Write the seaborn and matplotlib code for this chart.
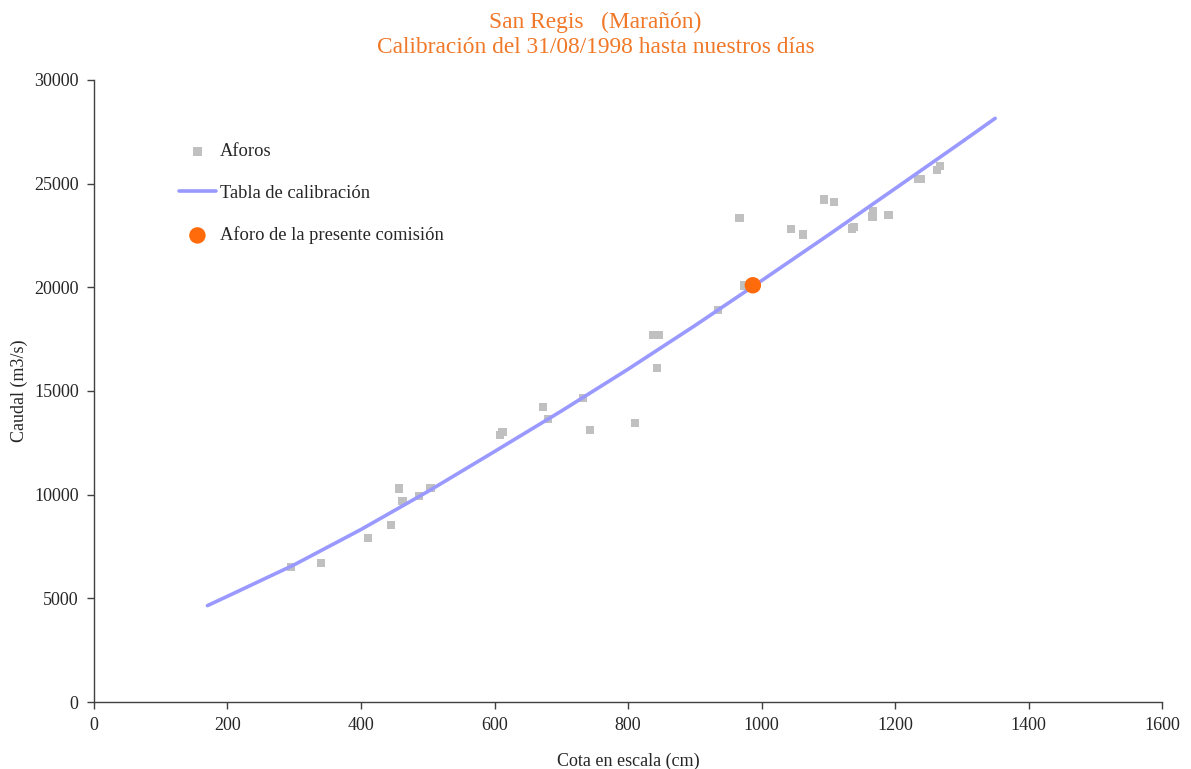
import numpy as np
import pandas as pd
import seaborn as sns
import matplotlib.pyplot as plt

# Aforos (cota cm, caudal m3/s)
aforo_cota = [295, 340, 410, 445, 457, 462, 487, 504, 608, 612, 673, 680, 733, 743,
              810, 837, 846, 843, 935, 974, 967, 1094, 1109, 1044, 1062, 1136, 1139,
              1167, 1166, 1190, 1234, 1239, 1263, 1267]
aforo_caudal = [6500, 6700, 7900, 8530, 10300, 9700, 9930, 10320, 12870, 13020, 14230, 13650,
                14660, 13120, 13460, 17700, 17700, 16120, 18900, 20080, 23330, 24240, 24100,
                22800, 22540, 22830, 22920, 23670, 23410, 23480, 25240, 25230, 25670, 25850]

# Tabla de calibracion
tabla_cota = [170, 200, 300, 400, 500, 600, 700, 800, 900, 1000, 1100, 1200, 1300, 1350]
tabla_caudal = [4650, 5100, 6620, 8320, 10150, 12080, 14030, 16050, 18150, 20320, 22520,
                24760, 27010, 28150]

# Aforo de la presente comision
comision_cota = [987]
comision_caudal = [20100]

sns.set_style("white")
plt.rcParams['font.family'] = ['Liberation Serif', 'DejaVu Serif']

fig = plt.figure(figsize=(11.91, 7.69), dpi=100)
ax = fig.add_axes([0.0789, 0.0871, 0.8968, 0.8089])

df_af = pd.DataFrame({"cota": aforo_cota, "caudal": aforo_caudal})
df_tb = pd.DataFrame({"cota": tabla_cota, "caudal": tabla_caudal})
df_co = pd.DataFrame({"cota": comision_cota, "caudal": comision_caudal})

sns.scatterplot(data=df_af, x="cota", y="caudal", ax=ax, marker="s", s=36,
                color="#c0c0c0", edgecolor="none", label="Aforos", zorder=2)
sns.lineplot(data=df_tb, x="cota", y="caudal", ax=ax, color="#9999ff", lw=2.6,
             label="Tabla de calibración", zorder=3)
sns.scatterplot(data=df_co, x="cota", y="caudal", ax=ax, marker="o", s=140,
                color="#ff6a0a", edgecolor="none", label="Aforo de la presente comisión", zorder=4)

ax.set_xlim(0, 1600)
ax.set_ylim(0, 30000)
ax.set_xticks(range(0, 1601, 200))
ax.set_yticks(range(0, 30001, 5000))
ax.tick_params(axis="both", direction="out", length=5, width=1, color="#404040",
               labelsize=13, pad=6, bottom=True, left=True)
for side in ["top", "right"]:
    ax.spines[side].set_visible(False)
for side in ["left", "bottom"]:
    ax.spines[side].set_color("#404040")
    ax.spines[side].set_linewidth(1)

ax.set_xlabel("Cota en escala (cm)", fontsize=13, labelpad=13)
ax.set_ylabel("Caudal (m3/s)", fontsize=13, labelpad=4)

fig.suptitle("San Regis   (Marañón)\nCalibración del 31/08/1998 hasta nuestros días",
             color="#f07828", fontsize=16.8, y=0.985, linespacing=1.28)

leg = ax.legend(loc="upper left", bbox_to_anchor=(0.064, 0.925), frameon=False,
                fontsize=13.3, labelspacing=1.33, handlelength=2.0, handletextpad=0.2,
                markerscale=1.0)

fig.savefig("out.png", dpi=100)
